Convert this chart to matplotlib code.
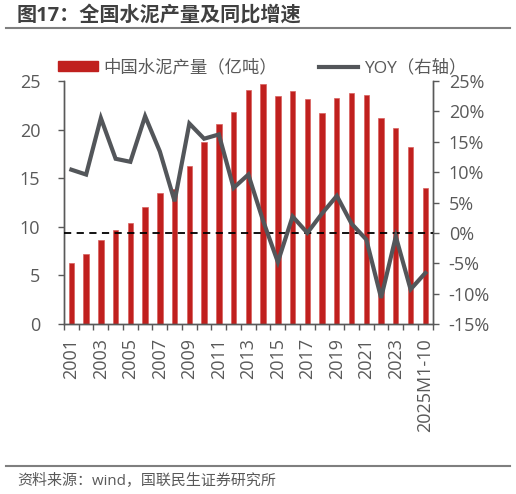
import matplotlib
matplotlib.use("Agg")
import matplotlib.pyplot as plt
from matplotlib.lines import Line2D
from matplotlib.patches import Patch
from matplotlib.ticker import FuncFormatter, FixedLocator
import numpy as np

plt.rcParams['font.family'] = ['Open Sans', 'Noto Sans CJK SC', 'DejaVu Sans']

categories = [str(y) for y in range(2001, 2025)] + ['2025M1-10']
production = [6.3, 7.25, 8.6, 9.7, 10.4, 12.0, 13.5, 13.9, 16.3, 18.7, 20.6, 21.8,
              24.1, 24.7, 23.5, 24.0, 23.1, 21.7, 23.3, 23.8, 23.6, 21.2, 20.2, 18.2, 14.0]
yoy = [10.4, 9.6, 18.9, 12.2, 11.7, 19.2, 13.4, 5.2, 18.0, 15.5, 16.2, 7.4,
       9.6, 2.0, -4.8, 2.7, 0.0, 3.2, 6.1, 1.5, -1.1, -10.7, -0.6, -9.3, -6.6]

red = '#C0201E'
gray_line = '#53565A'
txt = '#595959'

fig = plt.figure(figsize=(5.16, 4.94), dpi=100)
ax = fig.add_axes([64/516, 1-324/494, (432.7-64)/516, (324-81)/494])
ax2 = ax.twinx()

x = np.arange(len(categories))
ax.bar(x, production, width=0.36, color=red, edgecolor='#D9605E', linewidth=0.5, zorder=2)
ax.set_xlim(-0.5, len(categories)-0.5)
ax.set_ylim(0, 25)
ax.set_yticks(range(0, 26, 5))

ax2.axhline(0, color='black', linestyle=(0, (4, 3)), linewidth=1.3, zorder=3)
ax2.plot(x, yoy, color=gray_line, linewidth=3.0, zorder=4, solid_joinstyle='miter')
ax2.set_ylim(-15, 25)
ax2.set_yticks(range(-15, 26, 5))
ax2.yaxis.set_major_formatter(FuncFormatter(lambda v, p: f'{int(v)}%'))

# x ticks: labels at centers (every other), tick marks at boundaries
ax.set_xticks(x[::2])
ax.set_xticklabels([categories[i] for i in x[::2]], rotation=90)
ax.xaxis.set_minor_locator(FixedLocator(np.arange(-0.5, len(categories), 1.0)))
ax.tick_params(axis='x', which='major', length=0, pad=10, labelsize=13, labelcolor=txt)
ax.tick_params(axis='x', which='minor', length=4, width=1, color=txt, direction='out')

ax.tick_params(axis='y', length=4.5, width=1, color=txt, labelsize=13, labelcolor=txt, pad=12.5)
ax2.tick_params(axis='y', length=4.5, width=1, color=txt, labelsize=13, labelcolor=txt, pad=7)

for a in (ax, ax2):
    a.spines['top'].set_visible(False)
    for s in ('left', 'right', 'bottom'):
        a.spines[s].set_color(txt)
        a.spines[s].set_linewidth(1.0)

handles = [Patch(facecolor=red, edgecolor=red), Line2D([0], [0], color=gray_line, linewidth=3.0)]
labels = ['中国水泥产量（亿吨）', 'YOY（右轴）']
fig.legend(handles, labels, loc='center left', bbox_to_anchor=(51/516, 1-68/494), ncol=2,
           frameon=False, fontsize=12.5, labelcolor=txt, handlelength=2.3, handleheight=0.55,
           columnspacing=2.4, handletextpad=0.3, borderaxespad=0)

fig.text(17/516, 1-16/494, '图17：全国水泥产量及同比增速', fontsize=14.5, fontweight='bold',
         color='#404040', va='center', ha='left')
fig.add_artist(Line2D([6/516, 510/516], [1-28/494, 1-28/494], color='#7F7F7F', linewidth=1.5))
fig.add_artist(Line2D([6/516, 510/516], [1-466/494, 1-466/494], color='#7F7F7F', linewidth=1.5))
fig.text(17/516, 1-482/494, '资料来源：wind，国联民生证券研究所', fontsize=10.8,
         color=txt, va='center', ha='left')

fig.savefig('out.png', dpi=100)
